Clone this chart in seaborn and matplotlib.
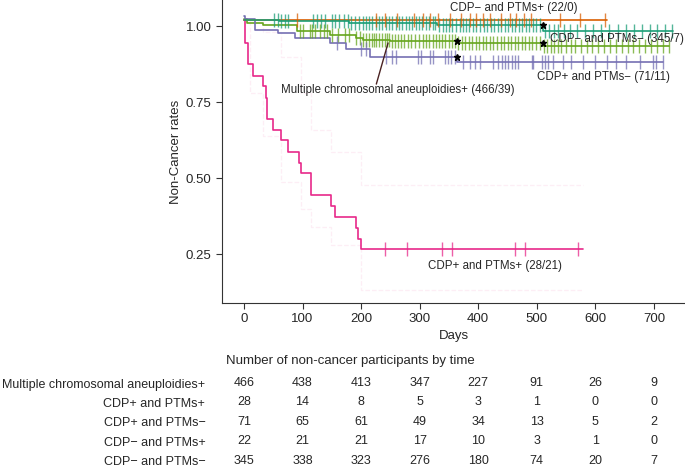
import numpy as np
import pandas as pd
import matplotlib
matplotlib.use('Agg')
import matplotlib.pyplot as plt
import seaborn as sns


groups = [
  'Multiple chromosomal aneuploidies+',
  'CDP+ and PTMs+',
  'CDP+ and PTMs\u2212',
  'CDP\u2212 and PTMs+',
  'CDP\u2212 and PTMs\u2212',
]
colors = ['#66A61E', '#E7298A', '#7570B3', '#D95F02', '#1B9E77']

# step curves (days, non-cancer rate)
mca_t = [0, 5, 33, 90, 147, 192, 204, 249, 363, 511, 725]
mca_s = [1.025, 1.012, 1.004, 0.986, 0.971, 0.96, 0.955, 0.953, 0.946, 0.935, 0.935]
pp_t = [0, 1, 7, 15, 33, 37, 40, 50, 64, 76, 94, 98, 114, 148, 156, 191, 194, 199, 579]
pp_s = [1.02, 0.946, 0.875, 0.838, 0.805, 0.765, 0.695, 0.66, 0.627, 0.588, 0.552, 0.519,
        0.445, 0.409, 0.373, 0.337, 0.302, 0.267, 0.267]
pm_t = [0, 2, 19, 58, 87, 147, 175, 215, 363, 715]
pm_s = [1.035, 1.025, 0.988, 0.977, 0.96, 0.944, 0.924, 0.9, 0.882, 0.882]
mp_t = [0, 619]
mp_s = [1.022, 1.022]
mm_t = [0, 60, 180, 329, 511, 732]
mm_s = [1.02, 1.017, 1.012, 1.004, 0.986, 0.986]

# censored participants (days)
mca_cens = [95, 100, 113, 117, 122, 130, 136, 142, 150, 160, 172, 180, 192, 198, 204, 208,
            213, 218, 222, 226, 230, 235, 240, 244, 248, 253, 258, 263, 268, 274, 280, 286,
            292, 298, 305, 310, 316, 322, 328, 333, 338, 344, 350, 355, 360, 366, 372, 378,
            384, 390, 396, 402, 408, 414, 420, 426, 432, 438, 444, 450, 456, 462, 468, 474,
            480, 486, 492, 498, 505, 512, 518, 524, 530, 536, 542, 550, 558, 566, 575, 585,
            595, 605, 615, 625, 635, 645, 655, 665, 675, 685, 695, 705, 715, 725]
pp_cens = [241, 278, 338, 356, 463, 480, 571]
pm_cens = [158, 200, 209, 243, 252, 260, 297, 303, 317, 323, 343, 349, 354, 360, 374, 386,
           394, 403, 425, 434, 440, 445, 451, 457, 462, 468, 491, 494, 508, 514, 519, 528,
           545, 559, 579, 599, 619, 636, 653, 676, 698, 704, 715]
mp_cens = [90, 226, 240, 262, 290, 305, 318, 331, 352, 370, 386, 397, 408, 420, 438, 455,
           465, 478, 490, 540, 573, 616]
mm_cens = [52, 58, 63, 70, 76, 118, 124, 131, 138, 150, 156, 163, 170, 177, 183, 190, 196,
           203, 208, 214, 219, 225, 231, 236, 242, 247, 253, 259, 264, 270, 276, 281, 287,
           293, 299, 304, 310, 316, 322, 327, 333, 339, 345, 350, 356, 362, 368, 374, 379,
           385, 391, 397, 403, 409, 415, 421, 427, 433, 439, 445, 451, 457, 463, 469, 475,
           481, 487, 493, 499, 505, 514, 521, 529, 537, 546, 557, 569, 582, 596, 610, 624,
           639, 652, 666, 679, 693, 705, 718, 730]

# starred points
mca_star = [363, 511]
pm_star = [363]
mm_star = [511]

# CI of CDP+ and PTMs+
pp_ci_t = [0, 10, 33, 64, 98, 114, 148, 199, 579]
pp_ci_hi = [1.02, 1.02, 0.98, 0.9, 0.78, 0.66, 0.587, 0.478, 0.478]
pp_ci_lo = [1.02, 0.78, 0.64, 0.489, 0.4, 0.34, 0.28, 0.133, 0.133]

# risk table
risk_days = [0, 100, 200, 300, 400, 500, 600, 700]
risk_mca = [466, 438, 413, 347, 227, 91, 26, 9]
risk_pp = [28, 14, 8, 5, 3, 1, 0, 0]
risk_pm = [71, 65, 61, 49, 34, 13, 5, 2]
risk_mp = [22, 21, 21, 17, 10, 3, 1, 0]
risk_mm = [345, 338, 323, 276, 180, 74, 20, 7]

labels = [
  'Multiple chromosomal aneuploidies+ (466/39)',
  'CDP+ and PTMs+ (28/21)',
  'CDP+ and PTMs\u2212 (71/11)',
  'CDP\u2212 and PTMs+ (22/0)',
  'CDP\u2212 and PTMs\u2212 (345/7)',
]


def step_value(t, s, x):
  idx = np.searchsorted(np.asarray(t), np.asarray(x), side='right') - 1
  return np.asarray(s)[idx]


sns.set_style('ticks')
plt.rcParams['font.family'] = ['Liberation Sans', 'DejaVu Sans']

fig = plt.figure(figsize=(6.85, 4.68), dpi=100)
ax = fig.add_axes([222 / 685, 1 - 303 / 468, 1 - 222 / 685, 303 / 468])

curves = [(mca_t, mca_s), (pp_t, pp_s), (pm_t, pm_s), (mp_t, mp_s), (mm_t, mm_s)]
cens = [mca_cens, pp_cens, pm_cens, mp_cens, mm_cens]
stars = [mca_star, [], pm_star, [], mm_star]

# CI (faint dashed)
ax.step(pp_ci_t, pp_ci_hi, where='post', color='#E7298A', alpha=0.08, lw=0.9, ls='--')
ax.step(pp_ci_t, pp_ci_lo, where='post', color='#E7298A', alpha=0.08, lw=0.9, ls='--')

rows = []
for g, (t, s) in zip(groups, curves):
  for ti, si in zip(t, s):
    rows.append({'group': g, 'days': ti, 'rate': si})
df = pd.DataFrame(rows)

sns.lineplot(data=df, x='days', y='rate', hue='group', hue_order=groups, palette=colors,
             drawstyle='steps-post', estimator=None, sort=False, legend=False, lw=1.2, ax=ax)

order = [4, 0, 3, 2, 1]
for i in order:
  t, s = curves[i]
  c = np.asarray(cens[i])
  ax.plot(c, step_value(t, s, c), ls='none', marker='|', ms=10, mew=1.0,
          color=colors[i], alpha=0.75)
  if stars[i]:
    st = np.asarray(stars[i])
    ax.plot(st, step_value(t, s, st - 1), ls='none', marker='*', ms=5, color='black')

ax.text(461, 1.06, labels[3], ha='center', va='center', fontsize=8.3)
ax.text(637, 0.957, labels[4], ha='center', va='center', fontsize=8.3)
ax.text(613, 0.834, labels[2], ha='center', va='center', fontsize=8.3)
ax.text(263, 0.79, labels[0], ha='center', va='center', fontsize=8.3)
ax.text(428, 0.212, labels[1], ha='center', va='center', fontsize=8.3)
ax.plot([226, 246], [0.81, 0.945], color='#4a2222', lw=1)

ax.set_xlim(-37.5, 753)
ax.set_ylim(0.09, 1.0865)
ax.set_xticks(risk_days)
ax.set_yticks([0.25, 0.5, 0.75, 1.0])
ax.set_yticklabels(['0.25', '0.50', '0.75', '1.00'])
ax.set_xlabel('Days', fontsize=9.5, labelpad=3)
ax.set_ylabel('Non-Cancer rates', fontsize=9.5, labelpad=3)
ax.tick_params(labelsize=9.5, length=4, width=0.8, color='#333333')
for sp in ['top', 'right']:
  ax.spines[sp].set_visible(False)
for sp in ['left', 'bottom']:
  ax.spines[sp].set_color('#333333')
  ax.spines[sp].set_linewidth(0.8)

# risk table
tab = fig.add_axes([222 / 685, 0, 1 - 222 / 685, 1 - 373 / 468])
risks = [risk_mca, risk_pp, risk_pm, risk_mp, risk_mm]
for r, vals in enumerate(risks):
  for d, v in zip(risk_days, vals):
    tab.text(d, r, str(v), ha='center', va='center', fontsize=9)
tab.set_xlim(ax.get_xlim())
tab.set_ylim(4.36, -0.513)
tab.set_yticks(range(len(groups)))
tab.set_yticklabels(groups, fontsize=9)
tab.set_xticks([])
tab.tick_params(axis='y', length=0, pad=12)
for sp in tab.spines.values():
  sp.set_visible(False)

fig.text(350 / 685, 1 - 361 / 468, 'Number of non-cancer participants by time',
         ha='center', va='center', fontsize=9.5)

fig.savefig('out.png', dpi=100)
